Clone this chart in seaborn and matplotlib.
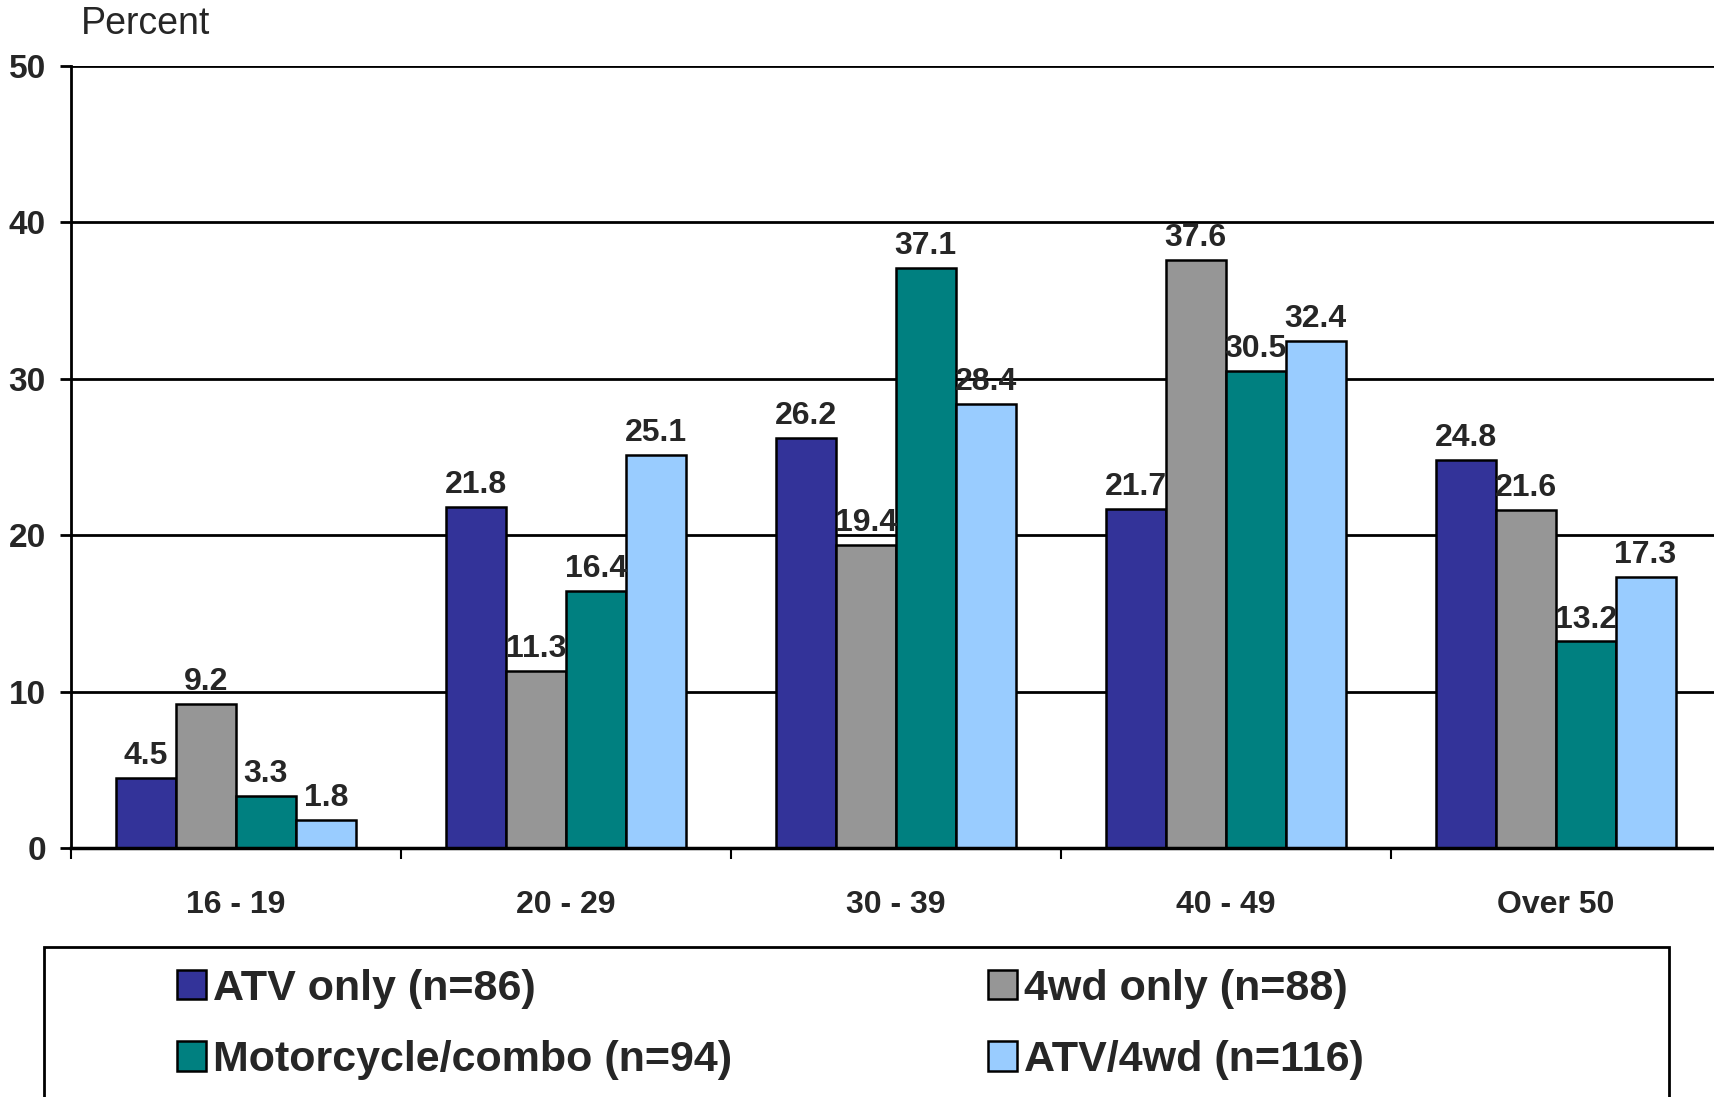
import numpy as np
import pandas as pd
import matplotlib
matplotlib.use('Agg')
import matplotlib.pyplot as plt
from matplotlib.patches import Rectangle
from matplotlib.ticker import FixedLocator
import seaborn as sns

# --- data ---
age_groups = ['16 - 19', '20 - 29', '30 - 39', '40 - 49', 'Over 50']
series_names = ['ATV only (n=86)', '4wd only (n=88)',
                'Motorcycle/combo (n=94)', 'ATV/4wd (n=116)']
atv_only = [4.5, 21.8, 26.2, 21.7, 24.8]
fourwd_only = [9.2, 11.3, 19.4, 37.6, 21.6]
motorcycle_combo = [3.3, 16.4, 37.1, 30.5, 13.2]
atv_4wd = [1.8, 25.1, 28.4, 32.4, 17.3]
bar_colors = ['#333399', '#969696', '#008080', '#99CCFF']

sns.set_theme(style='white')
plt.rcParams['font.family'] = ['Liberation Sans', 'DejaVu Sans']

df = pd.DataFrame({
    'age': age_groups * 4,
    'group': [s for s in series_names for _ in age_groups],
    'pct': atv_only + fourwd_only + motorcycle_combo + atv_4wd,
})

fig = plt.figure(figsize=(17.14, 10.97), dpi=100)
ax = fig.add_axes([0.0414, 0.227, 0.9605, 0.713])

ax.yaxis.grid(True, color='black', linewidth=2)
ax.set_axisbelow(True)

sns.barplot(data=df, x='age', y='pct', hue='group', order=age_groups,
            hue_order=series_names, palette=bar_colors, saturation=1,
            width=0.727, edgecolor='black', linewidth=1.8, legend=True, ax=ax)

for cont in ax.containers:
    ax.bar_label(cont, fmt='%.1f', padding=5, fontsize=23, fontweight='bold')

ax.set_ylim(0, 50)
ax.set_xlim(-0.5, 4.49)
ax.set_yticks([0, 10, 20, 30, 40, 50])
ax.set_yticklabels(['0', '10', '20', '30', '40', '50'], fontsize=24, fontweight='bold')
ax.tick_params(axis='y', length=8, width=2, color='black', direction='out', pad=10, left=True)
ax.tick_params(axis='x', which='major', length=0, pad=30, labelsize=23)
for lbl in ax.get_xticklabels():
    lbl.set_fontweight('bold')
ax.xaxis.set_minor_locator(FixedLocator([-0.5, 0.5, 1.5, 2.5, 3.5, 4.5]))
ax.tick_params(axis='x', which='minor', length=8, width=1.5, color='black',
               direction='out', bottom=True)
ax.set_xlabel('')
ax.set_ylabel('')

for side in ['top', 'right']:
    ax.spines[side].set_visible(False)
ax.spines['left'].set_color('black')
ax.spines['left'].set_linewidth(2)
ax.spines['bottom'].set_color('black')
ax.spines['bottom'].set_linewidth(2.5)

fig.text(0.047, 0.978, 'Percent', fontsize=27, va='center', ha='left')

# legend box with two columns, rows: ATV / 4wd, Motorcycle / ATV-4wd
handles, labels = ax.get_legend_handles_labels()
ax.get_legend().remove()
order = [0, 2, 1, 3]
fig.legend([handles[i] for i in order], [labels[i] for i in order], ncol=2,
           loc='upper left', bbox_to_anchor=(0.1033, 0.117), frameon=False,
           prop={'size': 31, 'weight': 'bold'},
           handlelength=0.68, handleheight=0.68, handletextpad=0.15,
           columnspacing=5.95, labelspacing=0.73, borderpad=0, borderaxespad=0)
fig.patches.append(Rectangle((0.0257, -0.05), 0.948, 0.187, transform=fig.transFigure,
                             fill=False, edgecolor='black', linewidth=2))

fig.savefig('out.png', dpi=100, facecolor='white')
